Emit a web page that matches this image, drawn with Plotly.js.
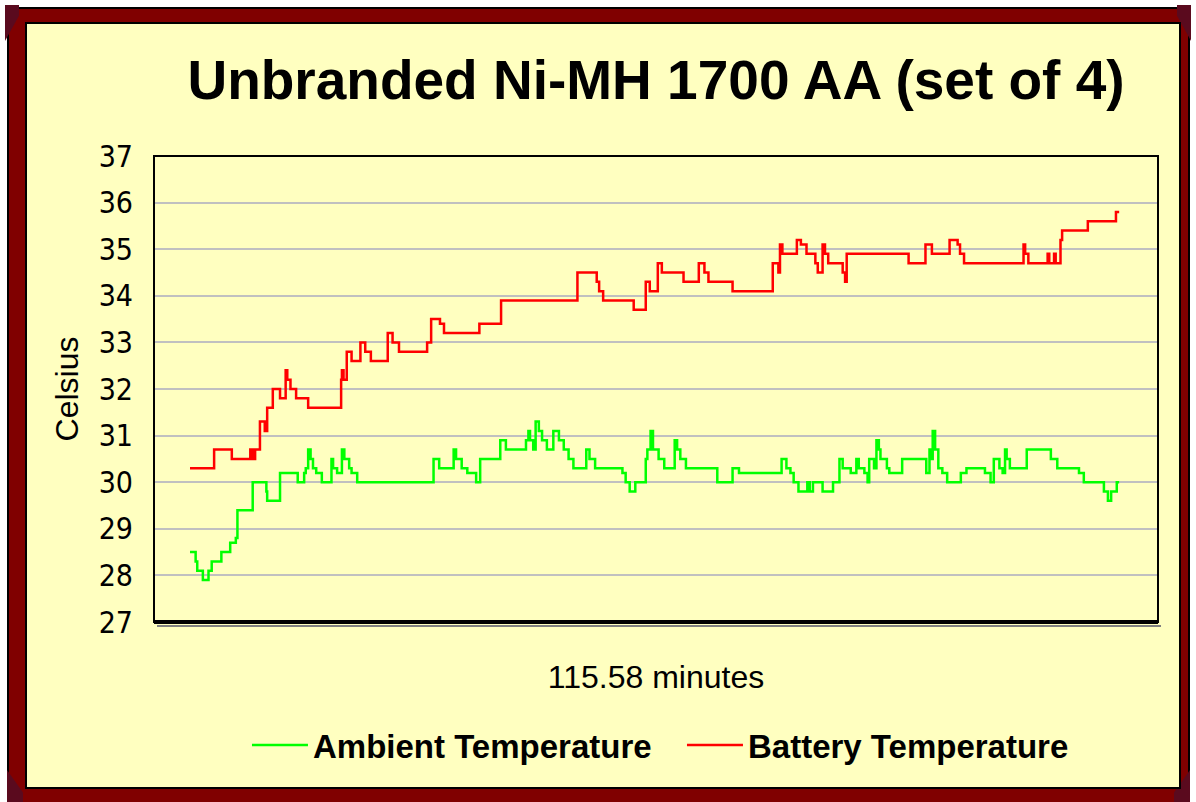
<!DOCTYPE html>
<html>
<head>
<meta charset="utf-8">
<script src="https://cdn.plot.ly/plotly-3.0.1.min.js"></script>
<style>
  body { margin: 0; background: #ffffff; width: 1196px; height: 802px; overflow: hidden; position: relative; }
  #frame { position: absolute; left: 7px; top: 7px; width: 1183px; height: 800px; background: #800000; border: 2px solid #000; box-sizing: border-box; }
  #panel { position: absolute; left: 25px; top: 22px; width: 1156px; height: 767px; background: #FFFFC0; border: 2px solid #000; box-sizing: border-box; }
  .bevel { position: absolute; background: #5a0a1e; }
  #myPlot { position: absolute; left: 0; top: 0; width: 1196px; height: 802px; }
</style>
</head>
<body>
<div id="frame"></div>
<div class="bevel" style="left:5px;top:5px;width:14px;height:36px;clip-path:polygon(0 0,100% 0,100% 30%,0 100%);"></div>
<div class="bevel" style="left:1177px;top:5px;width:14px;height:36px;clip-path:polygon(0 0,100% 0,100% 100%,0 30%);"></div>
<div class="bevel" style="left:7px;top:770px;width:16px;height:32px;clip-path:polygon(0 0,100% 70%,100% 100%,0 100%);"></div>
<div class="bevel" style="left:1174px;top:770px;width:16px;height:32px;clip-path:polygon(100% 0,100% 100%,0 100%,0 70%);"></div>
<div id="panel"></div>
<div id="myPlot"></div>
<script>
// minutes since start, temperature in Celsius (step changes)
var battTime = [0, 3.0, 5.2, 7.5, 7.8, 8.1, 8.7, 9.3, 9.6, 10.3, 11.2, 11.9, 12.1, 12.5, 13.2, 14.7,
	18.8, 18.9, 19.1, 19.5, 20.1, 21.2, 21.8, 22.5, 24.6, 25.2, 26.0, 29.5, 30.0, 31.1, 31.6, 36.0,
	38.7, 48.2, 50.6, 50.9, 51.4, 55.2, 56.7, 57.2, 58.2, 58.7, 61.4, 63.3, 64.0, 64.5, 67.5, 72.5,
	73.2, 73.4, 73.7, 75.5, 76.0, 76.7, 77.8, 78.1, 78.7, 79.0, 79.4, 81.2, 81.5, 81.7, 89.4, 91.5,
	92.3, 94.5, 95.5, 95.8, 96.3, 103.7, 103.9, 104.3, 106.7, 106.9, 107.5, 107.7, 108.3, 108.5,
	111.7, 115.2, 115.6];
var battTemp = [30.3, 30.7, 30.5, 30.7, 30.5, 30.7, 31.3, 31.1, 31.6, 32.0, 31.8, 32.4, 32.2, 32.0, 31.8, 31.6,
	32.2, 32.4, 32.2, 32.8, 32.6, 33.0, 32.8, 32.6, 33.2, 33.0, 32.8, 33.0, 33.5, 33.4, 33.2, 33.4,
	33.9, 34.5, 34.3, 34.1, 33.9, 33.7, 34.3, 34.1, 34.7, 34.5, 34.3, 34.7, 34.5, 34.3, 34.1, 34.7,
	34.5, 35.1, 34.9, 35.2, 35.1, 34.9, 34.7, 34.5, 35.1, 34.9, 34.7, 34.5, 34.3, 34.9, 34.7, 35.1,
	34.9, 35.2, 35.1, 34.9, 34.7, 35.1, 34.9, 34.7, 34.9, 34.7, 34.9, 34.7, 35.2, 35.4,
	35.6, 35.8, 35.8];

var ambTime = [0, 0.7, 0.9, 1.6, 2.3, 2.7, 3.9, 5.0, 5.7, 5.9, 7.8, 9.5, 9.6, 11.2, 13.4, 14.2, 14.4,
	14.7, 15.0, 15.3, 15.7, 16.4, 17.6, 17.8, 18.3, 18.9, 19.2, 19.8, 20.1, 20.8, 30.3, 31.0, 32.8,
	33.1, 33.8, 34.5, 35.6, 36.1, 38.6, 39.3, 41.8, 42.1, 42.3, 42.7, 43.0, 43.4, 43.8, 44.4, 45.2,
	45.9, 46.5, 47.1, 47.7, 49.3, 49.7, 50.4, 53.8, 54.2, 54.7, 55.4, 56.7, 56.9, 57.3, 57.6, 58.3,
	59.0, 60.3, 60.6, 61.0, 61.7, 65.6, 67.5, 68.3, 73.6, 74.2, 74.7, 75.1, 75.7, 76.8, 77.1, 77.5,
	78.7, 80.0, 80.8, 81.2, 82.2, 82.9, 83.2, 83.9, 84.3, 84.5, 85.1, 85.4, 85.7, 85.9, 86.7, 87.0,
	88.6, 91.6, 92.0, 92.2, 92.4, 92.7, 93.1, 93.6, 94.2, 95.9, 96.6, 98.9, 99.6, 100.0, 100.7,
	101.1, 101.4, 101.6, 102.0, 104.1, 107.1, 107.9, 110.6, 111.2, 113.7, 114.2, 114.6, 115.3, 115.6];
var ambTemp = [28.5, 28.3, 28.1, 27.9, 28.1, 28.3, 28.5, 28.7, 28.8, 29.4, 30.0, 29.8, 29.6, 30.2, 30.0, 30.2, 30.3,
	30.7, 30.5, 30.3, 30.2, 30.0, 30.5, 30.3, 30.2, 30.7, 30.5, 30.3, 30.2, 30.0, 30.5, 30.3, 30.7,
	30.5, 30.3, 30.2, 30.0, 30.5, 30.9, 30.7, 30.9, 31.1, 30.9, 30.7, 31.3, 31.1, 30.9, 30.7, 31.1,
	30.9, 30.7, 30.5, 30.3, 30.7, 30.5, 30.3, 30.2, 30.0, 29.8, 30.0, 30.5, 30.7, 31.1, 30.7, 30.5,
	30.3, 30.9, 30.7, 30.5, 30.3, 30.0, 30.3, 30.2, 30.5, 30.3, 30.2, 30.0, 29.8, 30.0, 29.8, 30.0,
	29.8, 30.0, 30.5, 30.3, 30.2, 30.5, 30.3, 30.2, 30.0, 30.5, 30.3, 30.9, 30.7, 30.5, 30.3, 30.2,
	30.5, 30.2, 30.7, 30.5, 31.1, 30.7, 30.3, 30.2, 30.0, 30.2, 30.3, 30.2, 30.0, 30.5, 30.3,
	30.2, 30.7, 30.5, 30.3, 30.7, 30.5, 30.3, 30.2, 30.0, 29.8, 29.6, 29.8, 30.0, 30.0];

var totalMinutes = 115.58;

function plotData(){

	var trace1 = {x: ambTime, y: ambTemp, type: 'scatter', mode: 'lines', name: 'Ambient Temperature',
		line: {shape: 'hv', color: '#00FF00', width: 2.5}};
	var trace2 = {x: battTime, y: battTemp, type: 'scatter', mode: 'lines', name: 'Battery Temperature',
		line: {shape: 'hv', color: '#FF0000', width: 2.5}};

	var plotLayout =
	{
		width: 1196,
		height: 802,
		margin: {l: 154, r: 38, t: 156, b: 180},
		paper_bgcolor: 'rgba(0,0,0,0)',
		plot_bgcolor: '#FFFFC0',
		font: {family: 'Liberation Sans, Arial, sans-serif', color: '#000'},
		title: {
			text: 'Unbranded Ni-MH 1700 AA (set of 4)',
			font: {size: 55, weight: 'bold', color: '#000'},
			xref: 'paper', x: 0.5, xanchor: 'center',
			yref: 'container', y: 0.9, yanchor: 'middle'
		},
		showlegend: true,
		legend: {
			orientation: 'h',
			x: 0.0926, xanchor: 'left',
			y: -0.264, yanchor: 'middle',
			bgcolor: 'rgba(0,0,0,0)',
			font: {size: 33, weight: 'bold'},
			itemwidth: 56,
			entrywidth: 364, entrywidthmode: 'pixels'
		},
		xaxis: {
			title: {text: totalMinutes + ' minutes', font: {size: 32}, standoff: 43},
			range: [-4.48, 120.43],
			showticklabels: false,
			showgrid: false,
			zeroline: false,
			showline: false,
			ticks: ''
		},
		yaxis: {
			title: {text: 'Celsius', font: {size: 32}, standoff: 10},
			range: [27, 37],
			dtick: 1,
			tick0: 27,
			showgrid: true,
			gridcolor: '#C0C0C0',
			gridwidth: 2,
			zeroline: false,
			showline: false,
			ticks: '',
			ticklabelstandoff: 20,
			tickfont: {family: 'Liberation Sans Narrow, DejaVu Sans Condensed, Arial Narrow, sans-serif', size: 30}
		},
		shapes: [
			{type: 'rect', xref: 'paper', yref: 'paper', x0: 0, x1: 1, y0: 0, y1: 1,
				line: {color: '#000', width: 2}},
			{type: 'line', xref: 'paper', yref: 'paper', x0: 0, x1: 1, y0: 0, y1: 0,
				line: {color: '#000', width: 4}},
			{type: 'line', xref: 'paper', yref: 'paper', ysizemode: 'pixel', yanchor: 0,
				x0: 0.003, x1: 1.003, y0: -4, y1: -4, line: {color: '#808080', width: 2}}
		]
	};

	var myPlot = document.getElementById('myPlot');
	Plotly.newPlot(myPlot, [trace1, trace2], plotLayout, {displayModeBar: false});
}

plotData();
</script>
</body>
</html>
